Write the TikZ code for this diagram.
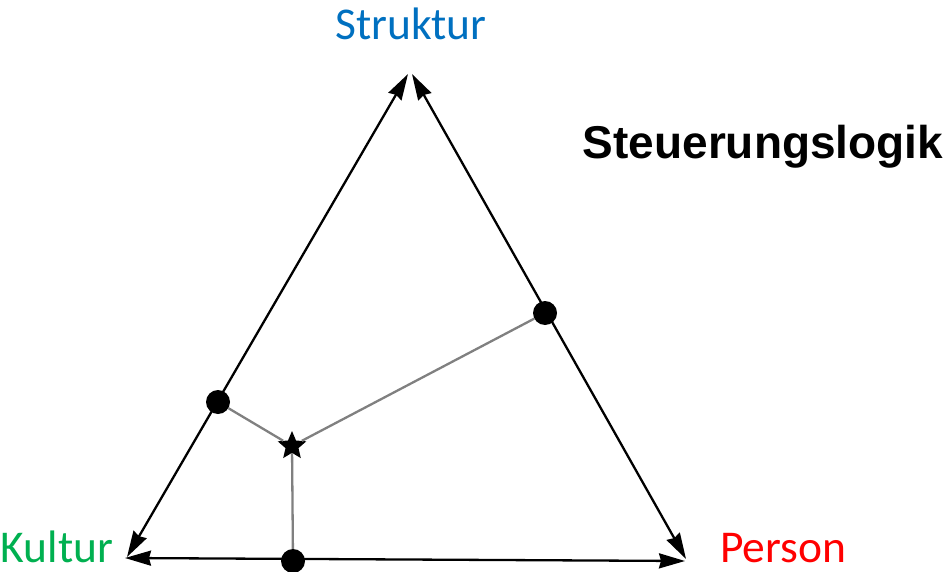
\documentclass[tikz,border=0pt]{standalone}
\usepackage{xcolor}
\usepackage{fontspec}
\setmainfont{Carlito}
\newfontfamily\headfont{Liberation Sans}
\usepackage{tikz}
\usetikzlibrary{shapes.geometric, arrows.meta}
\definecolor{strukblue}{RGB}{0,112,192}
\definecolor{kulturgreen}{RGB}{0,176,80}
\definecolor{personred}{RGB}{255,0,0}
\definecolor{linkgray}{RGB}{128,128,128}
\tikzset{
  edge/.style={draw=black, line width=2.3pt, {Stealth[length=26pt, width=15pt, inset=2pt]}-{Stealth[length=26pt, width=15pt, inset=2pt]}},
  link/.style={draw=linkgray, line width=2.3pt},
  dot/.style={circle, fill=black, inner sep=0pt, minimum size=24pt},
  starmark/.style={star, star points=5, star point ratio=2.2, fill=black, inner sep=0pt, minimum size=30pt},
  cornerlabel/.style={font=\fontsize{45.5}{54}\selectfont, inner sep=0pt, anchor=base}
}

\begin{document}
\begin{tikzpicture}[x=1pt, y=-1pt]
  \useasboundingbox (0,0) rectangle (944,572);
  % Corners
  \coordinate (topL) at (408,74);
  \coordinate (topR) at (412,74);
  \coordinate (leftA) at (127,557);
  \coordinate (leftB) at (125,558);
  \coordinate (rightA) at (686,559);
  \coordinate (rightB) at (685,561);

  % Triangle edges
  \draw[edge] (leftA) -- (topL);
  \draw[edge] (topR) -- (rightA);
  \draw[edge] (leftB) -- (rightB);

  % Points and star
  \node[dot] (dotL) at (218,402) {};
  \node[dot] (dotR) at (545,313) {};
  \node[dot] (dotB) at (293,561) {};
  \node[starmark] (mid) at (292,446) {};

  \draw[link] (dotL) -- (mid);
  \draw[link] (dotR) -- (mid);
  \draw[link] (mid) -- (dotB);

  % Labels
  \node[cornerlabel, text=strukblue] (struktur) at (411,40) {Struktur};
  \node[cornerlabel, text=kulturgreen] (kultur) at (57,562) {Kultur};
  \node[cornerlabel, text=personred] (person) at (783,562) {Person};
  \node[inner sep=0pt, font=\headfont\bfseries\fontsize{46}{54}\selectfont] (logik) at (763,147) {Steuerungslogik};
\end{tikzpicture}
\end{document}
